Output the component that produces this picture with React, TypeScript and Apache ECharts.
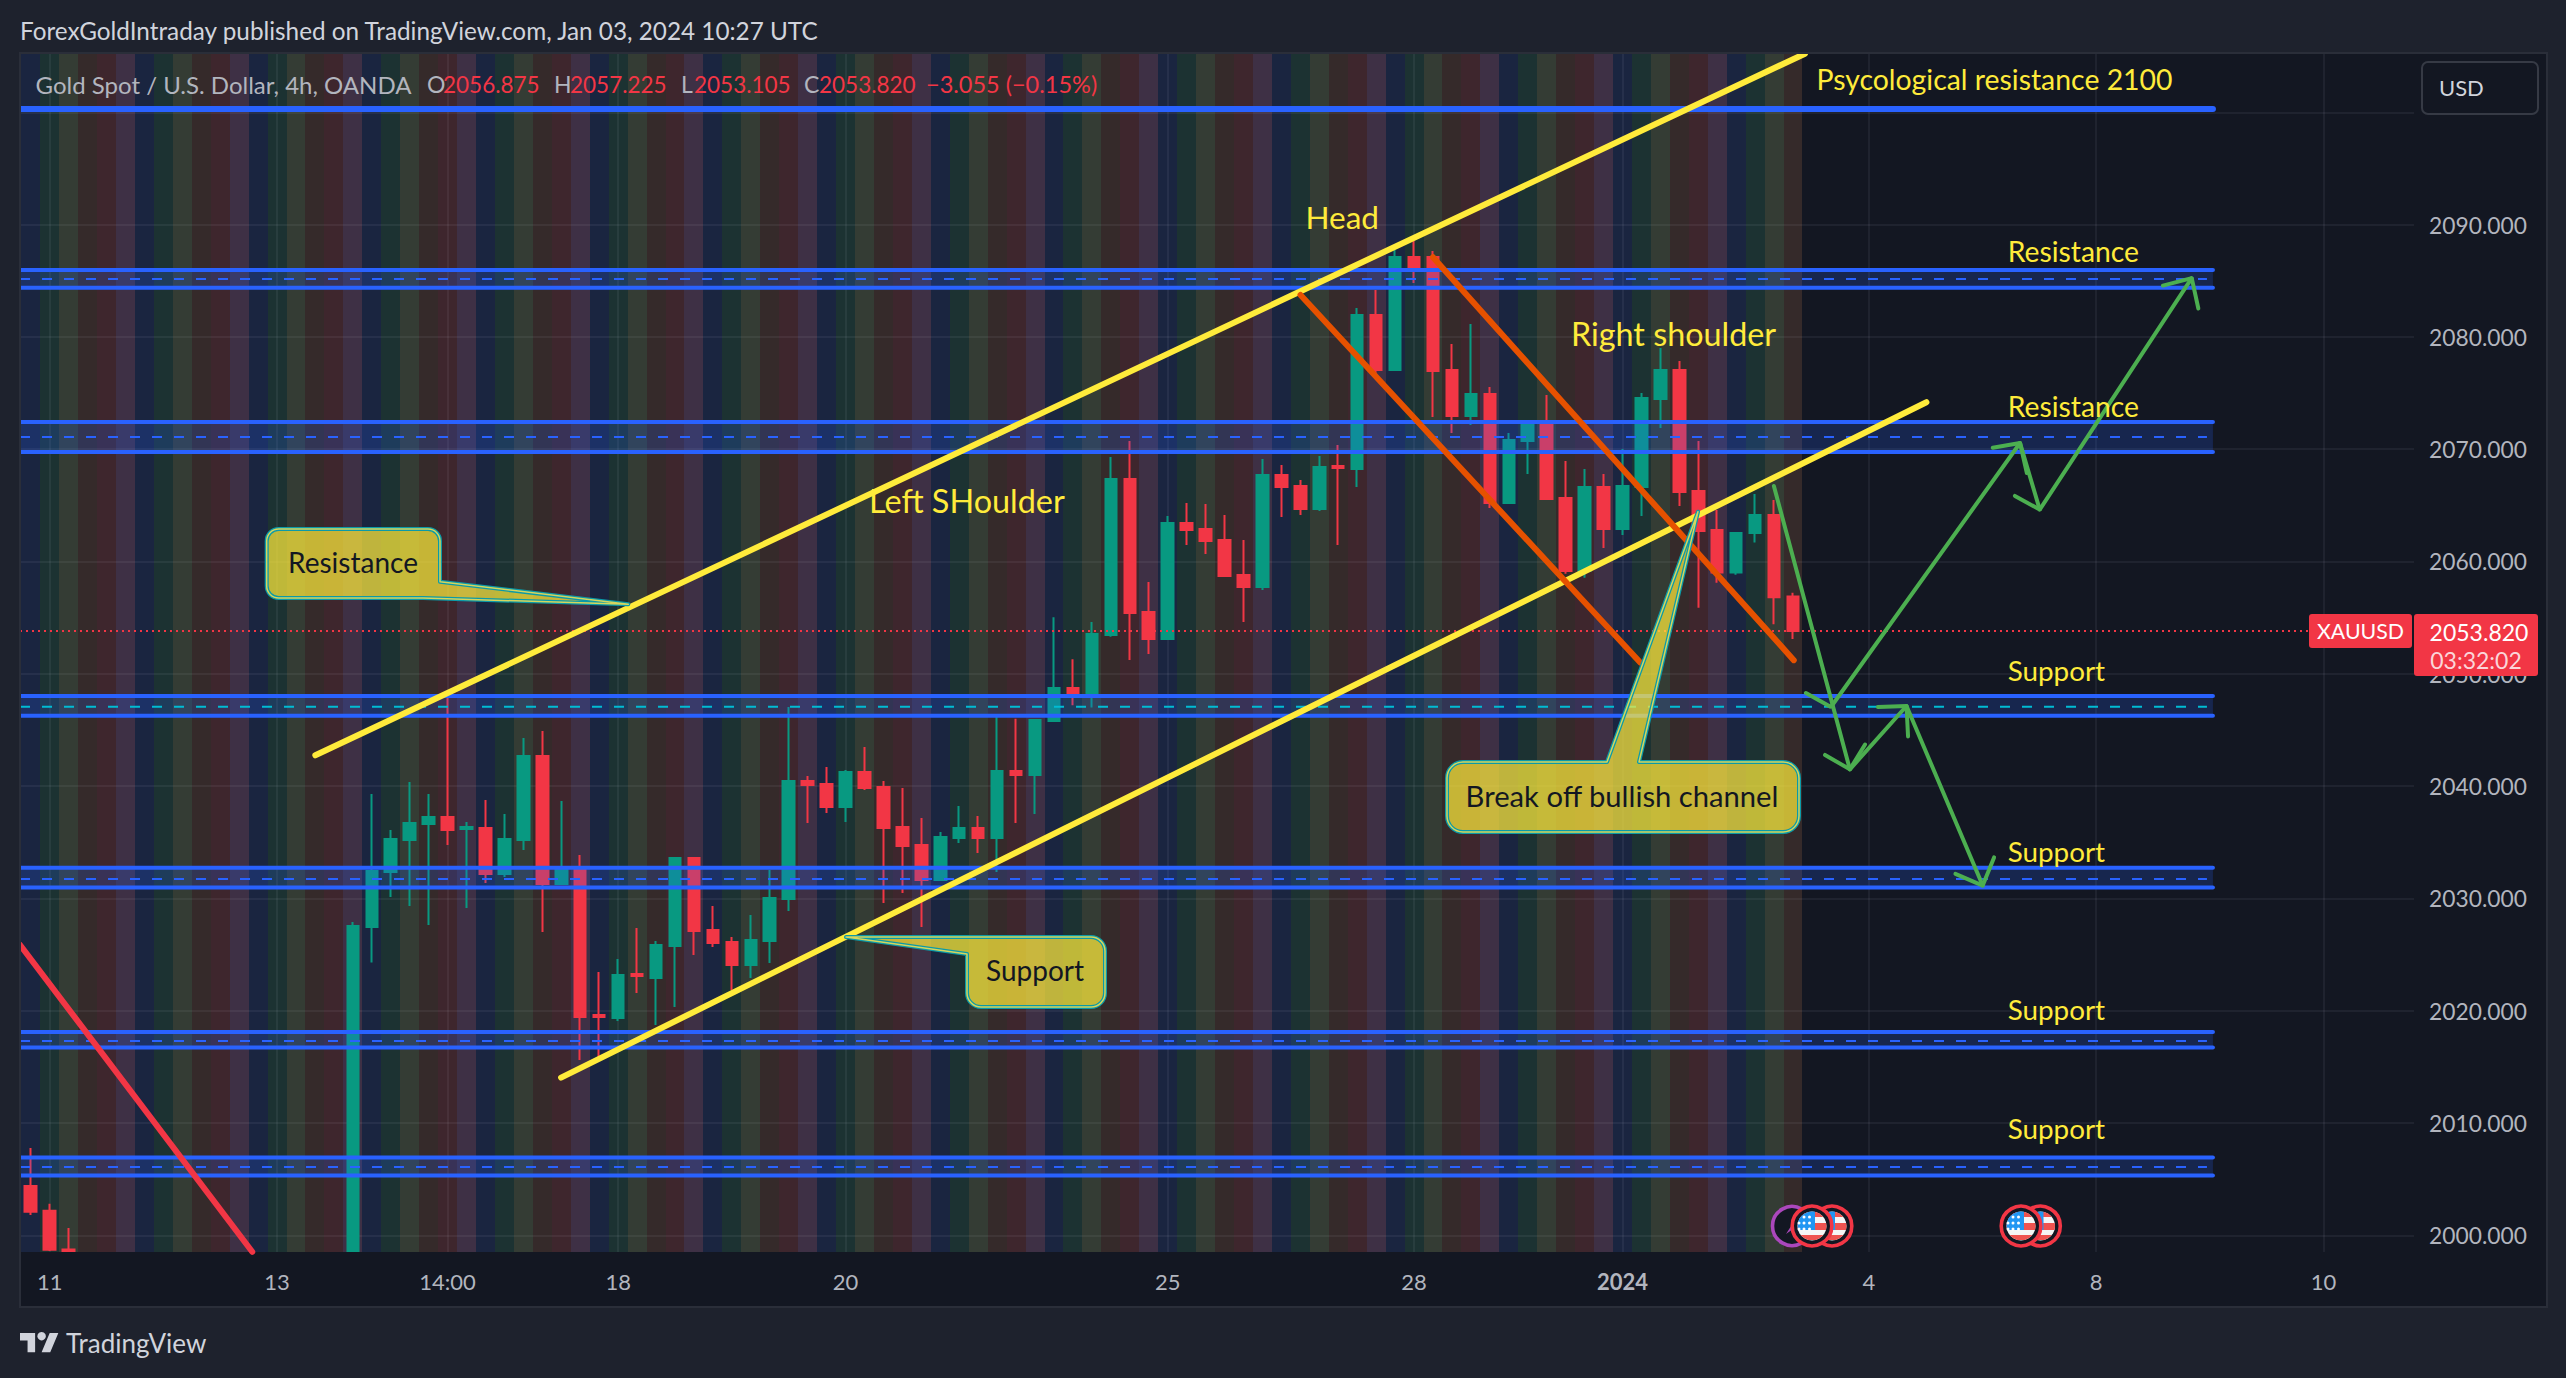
import React, { useEffect, useRef } from "react";
import * as echarts from "echarts";

const FONT = "Lato";
const PAGE = "#1e222d";
const PANE = "#131722";
const RED = "#f23645";
const TEAL = "#089981";
const BLUE = "#2962ff";
const CYAN = "#00bcd4";
const YELLOW = "#ffeb3b";
const ORANGE = "#e65100";
const GREEN = "#4caf50";

// Candles, one per 4h bar; bars 3..16 lie below the visible price range,
// and bars that run off the bottom of the pane are read down to its edge.
const opens = [2004.39, 2002.18, 1998.74, null, null, null, null, null, null, null, null, null, null, null, null, null, null, 1998.6, 2027.45, 2032.35, 2035.2, 2036.63, 2037.25, 2036.18, 2036.27, 2032.17, 2035.2, 2042.68, 2031.28, 2032.53, 2019.62, 2019.35, 2023.27, 2022.91, 2025.76, 2033.6, 2027.19, 2026.12, 2024.07, 2026.21, 2029.95, 2040.46, 2040.19, 2038.14, 2041.26, 2039.92, 2036.36, 2034.76, 2031.64, 2035.38, 2036.27, 2035.38, 2041.35, 2040.99, 2045.8, 2048.74, 2048.0, 2053.45, 2067.35, 2055.5, 2053.1, 2063.43, 2062.89, 2061.91, 2058.8, 2057.73, 2067.7, 2066.72, 2064.67, 2068.5, 2068.24, 2081.95, 2077.05, 2087.12, 2087.12, 2077.05, 2072.96, 2074.92, 2065.21, 2070.73, 2072.33, 2065.65, 2059.16, 2066.63, 2062.89, 2066.63, 2074.47, 2077.05, 2066.28, 2062.81, 2059.02, 2062.53, 2064.13, 2056.875];
const highs = [2007.77, 2002.8, 2000.65, null, null, null, null, null, null, null, null, null, null, null, null, null, null, 2027.9, 2039.3, 2036.09, 2040.37, 2039.3, 2047.85, 2036.8, 2038.76, 2037.52, 2044.28, 2044.91, 2038.67, 2033.87, 2023.45, 2024.6, 2027.37, 2026.21, 2033.6, 2033.69, 2029.32, 2026.56, 2028.52, 2032.53, 2047.04, 2040.9, 2041.7, 2041.44, 2043.48, 2040.46, 2039.83, 2037.16, 2035.91, 2038.23, 2037.34, 2046.2, 2046.0, 2045.98, 2055.03, 2051.29, 2054.61, 2069.3, 2070.73, 2058.17, 2064.05, 2065.21, 2065.12, 2064.14, 2061.91, 2069.13, 2068.59, 2067.26, 2069.39, 2070.37, 2082.57, 2084.18, 2087.74, 2088.54, 2087.65, 2079.37, 2081.15, 2075.54, 2071.44, 2072.33, 2074.83, 2068.95, 2068.24, 2067.79, 2070.02, 2075.0, 2079.01, 2077.85, 2070.73, 2064.59, 2062.6, 2066.01, 2065.48, 2057.225];
const lows = [2001.81, 1998.6, 1998.6, null, null, null, null, null, null, null, null, null, null, null, null, null, null, 1998.6, 2024.28, 2030.13, 2029.32, 2027.63, 2034.76, 2029.15, 2031.37, 2031.91, 2034.31, 2027.01, 2031.2, 2015.61, 2015.9, 2019.08, 2021.58, 2018.73, 2020.33, 2024.96, 2025.67, 2021.84, 2022.91, 2024.25, 2028.88, 2036.72, 2037.61, 2036.81, 2039.65, 2029.59, 2030.48, 2027.46, 2031.6, 2034.94, 2034.04, 2032.35, 2036.72, 2037.52, 2045.7, 2047.2, 2047.0, 2053.3, 2051.23, 2051.76, 2053.0, 2061.47, 2060.67, 2058.7, 2054.61, 2057.46, 2063.96, 2064.14, 2064.5, 2061.47, 2066.63, 2076.61, 2077.0, 2084.8, 2072.87, 2071.44, 2072.16, 2064.76, 2065.2, 2067.79, 2065.48, 2058.9, 2058.56, 2061.2, 2062.36, 2064.05, 2071.89, 2064.94, 2055.89, 2058.1, 2058.82, 2061.68, 2054.4, 2053.105];
const closes = [2002.09, 1998.7, 1998.6, null, null, null, null, null, null, null, null, null, null, null, null, null, null, 2027.54, 2032.44, 2035.29, 2036.72, 2037.25, 2036.09, 2036.36, 2032.17, 2035.29, 2042.68, 2031.28, 2032.53, 2019.44, 2019.44, 2023.18, 2023.09, 2025.85, 2033.6, 2027.1, 2026.03, 2024.07, 2026.3, 2030.04, 2040.46, 2040.1, 2038.14, 2041.26, 2039.83, 2036.27, 2034.67, 2031.64, 2035.47, 2036.27, 2035.38, 2041.35, 2040.99, 2045.89, 2048.74, 2048.2, 2053.54, 2067.35, 2055.41, 2053.1, 2063.43, 2062.8, 2061.82, 2058.71, 2057.73, 2067.7, 2066.63, 2064.67, 2068.41, 2068.32, 2081.95, 2077.05, 2087.12, 2086.14, 2076.96, 2072.96, 2074.92, 2065.21, 2070.82, 2072.33, 2065.57, 2059.16, 2066.63, 2062.89, 2066.72, 2074.56, 2077.05, 2066.19, 2062.72, 2059.02, 2062.53, 2064.13, 2056.81, 2053.82];

const xTickIndex = [1, 13, 22, 31, 43, 60, 73, 84, 97, 109, 121];
const xTickLabels = ["11", "13", "14:00", "18", "20", "25", "28", "2024", "4", "8", "10"];
const priceTicks = [2000, 2010, 2020, 2030, 2040, 2050, 2060, 2070, 2080, 2090, 2100];
const priceLabels = [2000, 2010, 2020, 2030, 2040, 2050, 2060, 2070, 2080, 2090];

const X_MIN = -0.565;
const X_MAX = 125.77;
const Y_MIN = 1998.51;
const Y_MAX = 2105.28;
const LEVEL_END = 115.16;
const LAST_PRICE = 2053.82;

const bandTop = [2085.96, 2072.42, 2048.03, 2032.72, 2018.1, 2006.92];
const bandBottom = [2084.38, 2069.75, 2046.26, 2030.97, 2016.72, 2005.33];
const bandMid = [2085.15, 2071.09, 2047.06, 2031.73, 2017.3, 2006.08];
const bandCyan = [0, 0, 1, 0, 0, 0];
const psychLevel = 2100.3;

const stripeColors = ["#1a2540", "#1c3232", "#343c34", "#352a2a", "#3e262d", "#3e3045"];
const stripeBars = opens.map((_, i) => i);

const yellowUpper = [[15.02, 2042.74], [93.63, 2105.22]];
const yellowLower = [[27.99, 2014.04], [100.04, 2074.18]];
const orangeLower = [[67.01, 2083.73], [84.95, 2050.99]];
const orangeUpper = [[74.0, 2087.09], [93.04, 2051.21]];
const redFalling = [[-0.56, 2025.85], [11.69, 1998.53]];

const greenPaths = [
  [[91.99, 2066.72], [96.0, 2041.49]],
  [[94.69, 2042.77], [96.0, 2041.49], [96.8, 2043.7]],
  [[96.0, 2041.49], [98.99, 2047.13]],
  [[97.48, 2047.04], [98.99, 2047.13], [99.07, 2044.42]],
  [[98.99, 2047.13], [103.01, 2031.14]],
  [[101.57, 2032.18], [103.01, 2031.14], [103.61, 2033.65]],
  [[93.68, 2048.29], [95.0, 2047.04], [104.98, 2070.55]],
  [[103.54, 2070.13], [104.98, 2070.55], [105.34, 2067.88]],
  [[104.98, 2070.55], [106.02, 2064.62]],
  [[104.71, 2065.84], [106.02, 2064.62], [114.04, 2085.23]],
  [[112.52, 2084.57], [114.04, 2085.23], [114.39, 2082.53]],
];

// Shapes that the graphic component draws
const FLAG_R = 14.5;
const chord = (y1: number, y2: number) => {
  const a = Math.sqrt(Math.max(0, FLAG_R * FLAG_R - y1 * y1));
  const b = Math.sqrt(Math.max(0, FLAG_R * FLAG_R - y2 * y2));
  return `M${-a} ${y1}L${a} ${y1}A${FLAG_R} ${FLAG_R} 0 0 1 ${b} ${y2}L${-b} ${y2}A${FLAG_R} ${FLAG_R} 0 0 1 ${-a} ${y1}Z`;
};
const dot = (x: number, y: number, r: number) => `M${x - r} ${y}a${r} ${r} 0 1 0 ${2 * r} 0a${r} ${r} 0 1 0 ${-2 * r} 0Z`;
const cantonA = Math.sqrt(FLAG_R * FLAG_R - 16);
const cantonB = Math.sqrt(FLAG_R * FLAG_R - 9);
echarts.graphic.registerShape("usRedA", echarts.graphic.extendPath(chord(-14, -9), {}));
echarts.graphic.registerShape("usRedB", echarts.graphic.extendPath(chord(-3, 4), {}));
echarts.graphic.registerShape("usRedC", echarts.graphic.extendPath(chord(9, 14), {}));
echarts.graphic.registerShape("usBlue", echarts.graphic.extendPath(`M3 4L${-cantonA} 4A${FLAG_R} ${FLAG_R} 0 0 1 3 ${-cantonB}Z`, {}));
const starD = [-9, -3, 3].flatMap((y) => [-8, -2.5].concat(y === -9 ? [] : [-13]).map((x) => dot(x, y, 1.5))).join("");
echarts.graphic.registerShape("usStars", echarts.graphic.extendPath(starD, {}));
echarts.graphic.registerShape("tvMark", echarts.graphic.extendPath("M14 22H7V11H0V4h14v18zM28 22h-8l7.5-18h8L28 22z", {}));
const calloutResistance = "M278.7 529H428A12 12 0 0 1 440 541V581.7L628.3 604.3L423 598H278.7A12 12 0 0 1 266.7 586V541A12 12 0 0 1 278.7 529Z";
const calloutSupport = "M846 937H1091A14 14 0 0 1 1105 951V993A14 14 0 0 1 1091 1007H981A14 14 0 0 1 967 993V954Z";
const calloutBreak = "M1463 762H1607L1698 511.7L1639 762H1783A16 16 0 0 1 1799 778V816A16 16 0 0 1 1783 832H1463A16 16 0 0 1 1447 816V778A16 16 0 0 1 1463 762Z";
echarts.graphic.registerShape("calloutResistance", echarts.graphic.extendPath(calloutResistance, {}));
echarts.graphic.registerShape("calloutSupport", echarts.graphic.extendPath(calloutSupport, {}));
echarts.graphic.registerShape("calloutBreak", echarts.graphic.extendPath(calloutBreak, {}));

const txt = (text: string, x: number, y: number, size: number, fill: string, align = "left", z = 30, weight = "normal") => ({
  type: "text",
  z,
  silent: true,
  style: { text, x, y, fill, font: `${weight} ${size}px ${FONT}`, align, textAlign: align, verticalAlign: "middle", textVerticalAlign: "middle" },
});
const box = (x: number, y: number, width: number, height: number, fill: string, z = 25, r = 0, stroke?: string) => ({
  type: "rect",
  z,
  silent: true,
  shape: { x, y, width, height, r },
  style: { fill, stroke, lineWidth: stroke ? 2 : 0 },
});
const callout = (name: string) => [
  { type: name, z: 22, silent: true, style: { fill: "rgba(255,235,59,0.72)", stroke: "#0b9aa8", lineWidth: 4, lineJoin: "round" } },
  { type: name, z: 22, silent: true, style: { fill: "none", stroke: "#d5d65e", lineWidth: 1.5, lineJoin: "round" } },
];
const flag = (cx: number, cy: number, z: number) => ({
  type: "group",
  x: cx,
  y: cy,
  z,
  silent: true,
  children: [
    { type: "circle", z, shape: { cx: 0, cy: 0, r: 19.8 }, style: { fill: PANE, stroke: RED, lineWidth: 3.6 } },
    { type: "circle", z, shape: { cx: 0, cy: 0, r: FLAG_R }, style: { fill: "#f5f5f5" } },
    { type: "usRedA", z, style: { fill: "#ef5350" } },
    { type: "usRedB", z, style: { fill: "#ef5350" } },
    { type: "usRedC", z, style: { fill: "#ef5350" } },
    { type: "usBlue", z, style: { fill: "#2196f3" } },
    { type: "usStars", z, style: { fill: "#ffffff" } },
  ],
});

const trend = (data: number[][], color: string, width: number) => ({
  type: "line",
  z: 5,
  data,
  symbol: "none",
  silent: true,
  lineStyle: { color, width, cap: "round" },
});

export default function App() {
  const ref = useRef<HTMLDivElement>(null);
  useEffect(() => {
    document.body.style.margin = "0";
    document.body.style.background = PAGE;
    const chart = echarts.init(ref.current!, null, { renderer: "svg" });
    const candles = opens
      .map((o, i) => (o === null ? null : [i, o, closes[i], lows[i], highs[i]]))
      .filter(Boolean);
    const bands = bandTop.map((t, i) => [X_MIN, LEVEL_END, t, bandBottom[i], bandMid[i], bandCyan[i]]);
    const option: any = {
      animation: false,
      backgroundColor: PANE,
      tooltip: { show: false },
      grid: { left: 20, top: 53, width: 2394, height: 1199, containLabel: false },
      xAxis: {
        type: "value",
        min: X_MIN,
        max: X_MAX,
        z: 1,
        axisLine: { show: false },
        axisTick: { show: false, customValues: xTickIndex },
        splitLine: { show: true, lineStyle: { color: "rgba(240,243,250,0.06)", width: 2 } },
        axisLabel: {
          customValues: xTickIndex,
          margin: 18,
          fontFamily: FONT,
          fontSize: 22,
          color: "#b2b5be",
          hideOverlap: false,
          formatter: (v: number) => {
            const s = xTickLabels[xTickIndex.indexOf(v)] ?? "";
            return s === "2024" ? `{b|${s}}` : s;
          },
          rich: { b: { fontFamily: FONT, fontSize: 22, fontWeight: "bold", color: "#b2b5be" } },
        },
      },
      yAxis: {
        type: "value",
        position: "right",
        min: Y_MIN,
        max: Y_MAX,
        z: 1,
        axisLine: { show: false },
        axisTick: { show: false, customValues: priceTicks },
        splitLine: { show: true, lineStyle: { color: "rgba(240,243,250,0.06)", width: 2 } },
        axisLabel: {
          customValues: priceLabels,
          align: "right",
          margin: 113,
          fontFamily: FONT,
          fontSize: 22.8,
          color: "#b2b5be",
          formatter: (v: number) => v.toFixed(3),
        },
      },
      series: [
        {
          type: "custom",
          z: 0,
          silent: true,
          clip: true,
          data: stripeBars.map((i) => [i, i % stripeColors.length]),
          encode: { x: 0 },
          renderItem: (params: any, api: any) => {
            const x = api.coord([api.value(0), Y_MIN])[0];
            const w = api.size([1, 0])[0];
            const left = Math.round(x - w / 2);
            const right = Math.round(x + w / 2);
            return {
              type: "rect",
              shape: { x: left, y: params.coordSys.y, width: right - left, height: params.coordSys.height },
              style: { fill: stripeColors[api.value(1)] },
            };
          },
        },
        {
          type: "candlestick",
          z: 3,
          silent: true,
          barWidth: 12,
          data: candles,
          itemStyle: { color: TEAL, color0: RED, borderColor: TEAL, borderColor0: RED, borderWidth: 2 },
        },
        {
          type: "custom",
          z: 4,
          silent: true,
          clip: true,
          data: bands,
          encode: { x: [0, 1], y: [2, 3] },
          renderItem: (_: any, api: any) => {
            const [x1, yTop] = api.coord([api.value(0), api.value(2)]);
            const [x2, yBot] = api.coord([api.value(1), api.value(3)]);
            const yMid = api.coord([0, api.value(4)])[1];
            const dash = api.value(5) ? CYAN : BLUE;
            const ln = (y: number) => ({
              type: "line",
              shape: { x1, y1: y, x2, y2: y },
              style: { stroke: BLUE, lineWidth: 4, lineCap: "round" },
            });
            return {
              type: "group",
              children: [
                { type: "rect", shape: { x: x1, y: yTop, width: x2 - x1, height: yBot - yTop }, style: { fill: "rgba(41,98,255,0.2)" } },
                ln(yTop),
                ln(yBot),
                { type: "line", shape: { x1, y1: yMid, x2: x2 - 6, y2: yMid }, style: { stroke: dash, lineWidth: 2, lineDash: [10, 12] } },
              ],
            };
          },
        },
        trend([[X_MIN, psychLevel], [LEVEL_END, psychLevel]], BLUE, 6),
        {
          type: "line",
          z: 5,
          silent: true,
          symbol: "none",
          data: [[X_MIN, LAST_PRICE], [X_MAX, LAST_PRICE]],
          lineStyle: { color: RED, width: 2, type: [2, 4] },
        },
        trend(redFalling, RED, 6),
        trend(yellowUpper, YELLOW, 6),
        trend(yellowLower, YELLOW, 6),
        trend(orangeLower, ORANGE, 6),
        trend(orangeUpper, ORANGE, 6),
        ...greenPaths.map((p) => trend(p, GREEN, 4)),
      ],
      graphic: {
        elements: [
          box(0, 0, 2566, 53, PAGE, 20),
          box(0, 0, 20, 1378, PAGE, 20),
          box(2547, 0, 19, 1378, PAGE, 20),
          box(0, 1307, 2566, 71, PAGE, 20),
          { type: "rect", z: 21, silent: true, shape: { x: 20, y: 53, width: 2527, height: 1254 }, style: { fill: "none", stroke: "#2a2e39", lineWidth: 2 } },

          txt("ForexGoldIntraday published on TradingView.com, Jan 03, 2024 10:27 UTC", 20, 30, 24.3, "#d1d4dc"),
          txt("Gold Spot / U.S. Dollar, 4h, OANDA", 35.6, 84, 24, "#b2b5be"),
          txt("O", 427, 84, 23, "#b2b5be"),
          txt("2056.875", 443, 84, 22.5, RED),
          txt("H", 554, 84, 23, "#b2b5be"),
          txt("2057.225", 570, 84, 22.5, RED),
          txt("L", 681, 84, 23, "#b2b5be"),
          txt("2053.105", 694, 84, 22.5, RED),
          txt("C", 804, 84, 23, "#b2b5be"),
          txt("2053.820", 819, 84, 22.5, RED),
          txt("\u22123.055 (\u22120.15%)", 926, 84, 23.5, RED),

          box(2422, 62, 116, 52, PANE, 24, 6, "#363a45"),
          txt("USD", 2439, 87, 22, "#d1d4dc"),

          txt("Psycological resistance 2100", 1816.5, 79, 28.4, YELLOW),
          txt("Resistance", 2007.7, 251, 28.3, YELLOW),
          txt("Resistance", 2007.7, 405.5, 28.3, YELLOW),
          txt("Support", 2007.7, 670.5, 27.8, YELLOW),
          txt("Support", 2007.7, 851.5, 27.8, YELLOW),
          txt("Support", 2007.7, 1009.5, 27.8, YELLOW),
          txt("Support", 2007.7, 1128, 27.8, YELLOW),
          txt("Head", 1305.5, 217, 31.5, YELLOW),
          txt("Right shoulder", 1571, 333.5, 32.3, YELLOW),
          txt("Left SHoulder", 869, 500.5, 32.4, YELLOW),

          ...callout("calloutResistance"),
          ...callout("calloutSupport"),
          ...callout("calloutBreak"),
          txt("Resistance", 353, 562, 28, "#131722", "center"),
          txt("Support", 1035, 970, 28, "#131722", "center"),
          txt("Break off bullish channel", 1622, 795, 29.2, "#131722", "center"),

          box(2309, 614, 103, 34, RED, 25, 3),
          txt("XAUUSD", 2360.5, 631, 21.3, "#ffffff", "center"),
          box(2414, 614, 124, 62, RED, 25, 3),
          txt("2053.820", 2479, 632, 23, "#ffffff", "center"),
          txt("03:32:02", 2476, 660, 23, "#fbd5d9", "center"),

          { type: "circle", z: 26, silent: true, shape: { cx: 1792, cy: 1226, r: 19.5 }, style: { fill: PANE, stroke: "#ab47bc", lineWidth: 3.6 } },
          { type: "polygon", z: 26, silent: true, shape: { points: [[1795, 1220], [1786, 1234], [1793, 1229], [1802, 1224]] }, style: { fill: "#ab47bc" } },
          flag(1832, 1226, 27),
          flag(1812, 1226, 28),
          flag(2040.5, 1226, 27),
          flag(2021, 1226, 28),

          { type: "tvMark", z: 30, silent: true, x: 20, y: 1328.7, scaleX: 1.08, scaleY: 1.07, style: { fill: "#d1d4dc" } },
          { type: "circle", z: 30, silent: true, shape: { cx: 41.6, cy: 1336.2, r: 4.2 }, style: { fill: "#d1d4dc" } },
          txt("TradingView", 66, 1343, 26, "#d1d4dc"),
        ],
      },
    };
    chart.setOption(option);
    return () => chart.dispose();
  }, []);
  return <div ref={ref} style={{ position: "fixed", left: 0, top: 0, width: 2566, height: 1378 }} />;
}
